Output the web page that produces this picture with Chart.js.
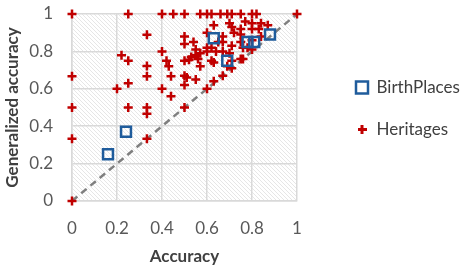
<!DOCTYPE html>
<html><head><meta charset="utf-8">
<script src="https://cdn.jsdelivr.net/npm/chart.js@4"></script>
<style>html,body{margin:0;padding:0;background:#fff}#wrap{width:469px;height:276px;position:relative}</style>
</head><body><div id="wrap"><canvas id="c" width="469" height="276"></canvas></div>
<script>
// ---- data ----
const seriesNames = ['BirthPlaces', 'Heritages'];
const axisTitles = ['Accuracy', 'Generalized accuracy'];
const tickLabels = ['0', '0.2', '0.4', '0.6', '0.8', '1'];

const birthX = [0.16, 0.24, 0.63, 0.69, 0.78, 0.81, 0.88];
const birthY = [0.25, 0.37, 0.87, 0.75, 0.85, 0.85, 0.89];

const heritageX = [
  0, 0, 0, 0, 0,
  0.2, 0.22,
  0.25, 0.25, 0.25, 0.25,
  0.333, 0.333, 0.333, 0.333, 0.333, 0.333,
  0.4, 0.4, 0.4, 0.42, 0.43,
  0.45, 0.44, 0.44,
  0.5, 0.5, 0.5, 0.5, 0.5, 0.5, 0.5, 0.51,
  0.52, 0.53, 0.54, 0.55, 0.55, 0.55, 0.57, 0.57, 0.57, 0.56,
  0.6, 0.6, 0.6, 0.6, 0.6,
  0.62, 0.62, 0.62, 0.63, 0.63, 0.63, 0.64, 0.65,
  0.66, 0.67, 0.67, 0.67, 0.67,
  0.69, 0.7, 0.7, 0.71, 0.71, 0.72, 0.71, 0.71, 0.71, 0.69,
  0.75, 0.75, 0.75, 0.75, 0.75, 0.76, 0.76,
  0.77, 0.8, 0.8, 0.8, 0.8, 0.82, 0.84, 0.87, 0.83, 0.84, 0.78, 0.8,
  1
];
const heritageY = [
  1, 0.667, 0.5, 0.333, 0,
  0.6, 0.78,
  1, 0.75, 0.63, 0.5,
  0.889, 0.722, 0.667, 0.5, 0.467, 0.333,
  1, 0.8, 0.6, 0.75, 0.72,
  1, 0.667, 0.56,
  1, 0.88, 0.84, 0.75, 0.67, 0.62, 0.5, 0.66,
  0.755, 0.77, 0.85, 0.78, 0.81, 0.65, 0.79, 0.72, 1, 0.76,
  1, 0.9, 0.82, 0.6, 0.8,
  1, 0.82, 0.75, 0.74, 0.94, 0.64, 0.8, 0.85,
  1, 0.88, 0.67, 0.85, 0.8,
  1, 0.95, 0.79, 0.93, 0.83, 0.9, 0.71, 1, 0.75, 0.72,
  1, 0.92, 0.89, 0.85, 0.76, 0.82, 0.76,
  0.96, 0.95, 0.92, 0.81, 1, 1, 0.95, 0.94, 0.92, 0.88, 0.82, 0.86,
  1
];
const diagX = [0, 1];
const diagY = [0, 1];

// ---- helpers ----
const pts = (xs, ys) => xs.map((x, i) => ({x: x, y: ys[i]}));
const RED = '#c00000', BLUE = '#1f5c9c';

const plusImg = document.createElement('canvas');
plusImg.width = 9; plusImg.height = 9;
(function(){ const g = plusImg.getContext('2d'); g.fillStyle = RED; g.fillRect(3, 0, 3, 9); g.fillRect(0, 3, 9, 3); })();

const hatch = {
  id: 'hatch',
  beforeDraw(chart) {
    const {ctx, chartArea: a} = chart;
    const p = document.createElement('canvas'); p.width = 4; p.height = 4;
    const pc = p.getContext('2d');
    pc.fillStyle = '#fff'; pc.fillRect(0, 0, 4, 4);
    pc.strokeStyle = '#e6e6e6'; pc.lineWidth = 1;
    pc.beginPath();
    pc.moveTo(-1, -1); pc.lineTo(5, 5);
    pc.moveTo(-1, 3); pc.lineTo(1, 5);
    pc.moveTo(3, -1); pc.lineTo(5, 1);
    pc.stroke();
    ctx.save();
    ctx.fillStyle = ctx.createPattern(p, 'repeat');
    ctx.fillRect(a.left, a.top, a.right - a.left, a.bottom - a.top);
    ctx.restore();
  }
};

const legendPlace = {
  id: 'legendPlace',
  afterLayout(chart) {
    const lg = chart.legend;
    const pad = lg.options.labels.padding;
    lg.left = 356 - pad;
    lg.top = 79 - pad;
    lg.right = chart.width;
    lg.width = lg.right - lg.left;
  }
};

const tickFont = {family: 'Lato', size: 17};
const titleFont = {family: 'Lato', size: 17, weight: 'bold'};

function build() {
  new Chart(document.getElementById('c'), {
    type: 'scatter',
    data: {
      datasets: [
        {label: seriesNames[0], data: pts(birthX, birthY), pointStyle: 'rect', pointRadius: 7, pointHoverRadius: 7,
         borderColor: BLUE, backgroundColor: 'rgba(0,0,0,0)', borderWidth: 2.5, order: 1, clip: false},
        {label: seriesNames[1], data: pts(heritageX, heritageY), pointStyle: 'cross', pointRadius: 4.5, pointHoverRadius: 4.5,
         borderColor: RED, backgroundColor: RED, borderWidth: 2.5, order: 2, clip: false},
        {type: 'line', label: 'diag', data: pts(diagX, diagY), borderColor: '#7f7f7f', borderWidth: 2.5,
         borderDash: [7, 5], pointRadius: 0, fill: false, order: 3}
      ]
    },
    options: {
      responsive: false,
      animation: false,
      events: [],
      layout: {padding: {left: 0, top: 14, right: 52, bottom: 0}},
      scales: {
        x: {
          type: 'linear', min: 0, max: 1,
          afterFit(s) { s.height = 75; s.paddingLeft = 0; s.paddingRight = 0; },
          ticks: {stepSize: 0.2, padding: 17, color: '#595959', font: tickFont,
                  callback: (v, i) => tickLabels[i]},
          grid: {color: '#d9d9d9', lineWidth: 1.5, drawTicks: false},
          border: {color: '#d9d9d9', width: 1.5},
          title: {display: true, text: axisTitles[0], color: '#404040', font: titleFont, padding: {top: 0, bottom: 9}}
        },
        y: {
          type: 'linear', min: 0, max: 1,
          afterFit(s) { s.width = 72; s.paddingTop = 0; s.paddingBottom = 0; },
          ticks: {stepSize: 0.2, padding: 19, color: '#595959', font: tickFont,
                  callback: (v, i) => tickLabels[i]},
          grid: {color: '#d9d9d9', lineWidth: 1.5, drawTicks: false},
          border: {color: '#d9d9d9', width: 1.5},
          title: {display: true, text: axisTitles[1], color: '#404040', font: titleFont, padding: {top: 2, bottom: 0}}
        }
      },
      plugins: {
        tooltip: {enabled: false},
        legend: {
          position: 'right', align: 'start', maxWidth: 120,
          labels: {
            usePointStyle: true, boxWidth: 12, boxHeight: 12, padding: 25,
            color: '#404040', font: {family: 'Lato', size: 17},
            generateLabels(chart) {
              const items = Chart.defaults.plugins.legend.labels.generateLabels(chart).filter(it => it.datasetIndex < 2);
              items.forEach(it => {
                if (it.datasetIndex === 1) { it.pointStyle = plusImg; }
                else { it.fillStyle = 'rgba(0,0,0,0)'; it.lineWidth = 2.5; }
              });
              return items;
            }
          }
        }
      }
    },
    plugins: [hatch, legendPlace]
  });
}
Promise.all([document.fonts.load('17px Lato'), document.fonts.load('bold 17px Lato')]).then(build, build);
</script></body></html>
